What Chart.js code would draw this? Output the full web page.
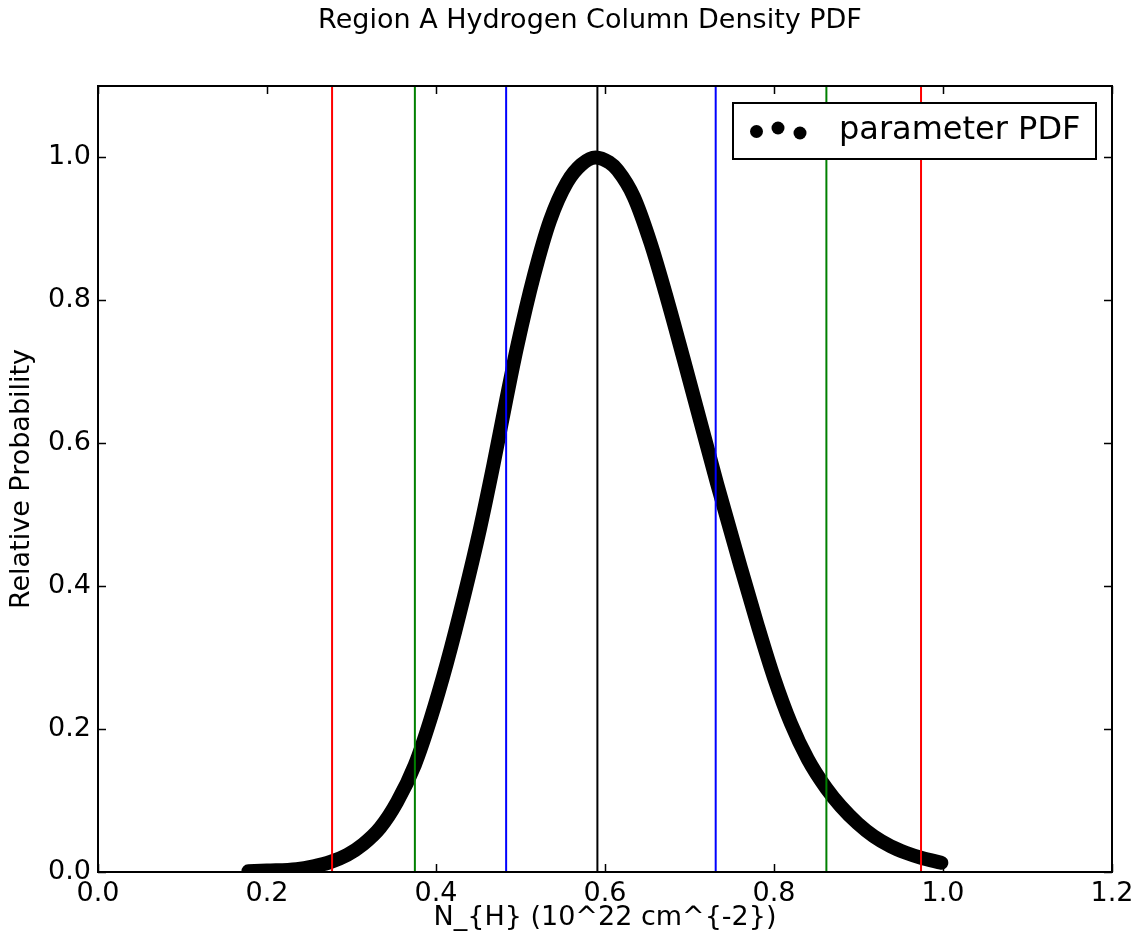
<!DOCTYPE html>
<html>
<head>
<meta charset="utf-8">
<title>Region A Hydrogen Column Density PDF</title>
<script src="https://cdn.jsdelivr.net/npm/chart.js@4.4.1/dist/chart.umd.min.js"></script>
<style>
    html, body { margin: 0; padding: 0; background: #fff; }
    #wrap { width: 1145px; height: 943px; }
</style>
</head>
<body>
<div id="wrap"><canvas id="pdfChart"></canvas></div>
<script>
// N_H samples (10^22 cm^-2) and relative probability
const nhValues = [0.178, 0.200, 0.235, 0.255, 0.275, 0.295, 0.314, 0.334, 0.354, 0.375,
    0.393, 0.413, 0.433, 0.452, 0.468, 0.483, 0.496, 0.516, 0.535, 0.555,
    0.572, 0.589, 0.605, 0.615, 0.634, 0.654, 0.674, 0.693, 0.713, 0.733,
    0.761, 0.780, 0.800, 0.820, 0.840, 0.862, 0.879, 0.899, 0.918, 0.938,
    0.956, 0.974, 0.998];
const probValues = [0.001, 0.002, 0.004, 0.008, 0.014, 0.024, 0.039, 0.062, 0.098, 0.150,
    0.212, 0.293, 0.385, 0.480, 0.570, 0.660, 0.735, 0.835, 0.912, 0.965,
    0.990, 1.000, 0.993, 0.982, 0.945, 0.880, 0.800, 0.718, 0.630, 0.542,
    0.425, 0.348, 0.272, 0.208, 0.158, 0.117, 0.092, 0.068, 0.050, 0.036,
    0.027, 0.020, 0.013];

// vertical marker lines: 3-sigma low, 2-sigma low, 1-sigma low, peak, 1/2/3-sigma high
const intervalLines = [0.277, 0.375, 0.483, 0.591, 0.731, 0.862, 0.974];
const intervalColours = ['#ff0000', '#008000', '#0000ff', '#000000', '#0000ff', '#008000', '#ff0000'];

const xTicks = [0.0, 0.2, 0.4, 0.6, 0.8, 1.0, 1.2];
const yTicks = [0.0, 0.2, 0.4, 0.6, 0.8, 1.0];

const FONT = "'DejaVu Sans', 'Liberation Sans', sans-serif";
const Y_MAX = 1.1;

const curveData = nhValues.map((x, i) => ({ x: x, y: probValues[i] }));

const datasets = intervalLines.map((v, i) => ({
    label: 'line' + i,
    data: [{ x: v, y: 0 }, { x: v, y: Y_MAX }],
    borderColor: intervalColours[i],
    borderWidth: 2,
    pointRadius: 0,
    order: 0
}));

datasets.push({
    label: 'parameter PDF',
    data: curveData,
    borderColor: '#000',
    backgroundColor: '#000',
    borderWidth: 14,
    borderCapStyle: 'round',
    borderJoinStyle: 'round',
    cubicInterpolationMode: 'monotone',
    pointRadius: 0,
    order: 1
});

// inside tick marks on all four sides plus the axes frame
const frameTicks = {
    id: 'frameTicks',
    afterDatasetsDraw(chart) {
        const { ctx, chartArea: a, scales } = chart;
        ctx.save();
        ctx.strokeStyle = '#000';
        ctx.lineWidth = 1.5;
        ctx.beginPath();
        scales.x.ticks.forEach(t => {
            const px = Math.round(scales.x.getPixelForValue(t.value)) + 0.5;
            ctx.moveTo(px, a.bottom); ctx.lineTo(px, a.bottom - 8);
            ctx.moveTo(px, a.top); ctx.lineTo(px, a.top + 8);
        });
        scales.y.ticks.forEach(t => {
            const py = Math.round(scales.y.getPixelForValue(t.value)) + 0.5;
            ctx.moveTo(a.left, py); ctx.lineTo(a.left + 8, py);
            ctx.moveTo(a.right, py); ctx.lineTo(a.right - 8, py);
        });
        ctx.stroke();
        ctx.lineWidth = 2;
        ctx.strokeRect(a.left, a.top, a.right - a.left, a.bottom - a.top);
        ctx.restore();
    }
};

// scatter-style legend box in the upper right corner
const dotLegend = {
    id: 'dotLegend',
    afterDraw(chart) {
        const { ctx, chartArea: a } = chart;
        const label = chart.data.datasets[chart.data.datasets.length - 1].label;
        const w = 363, h = 56;
        const left = a.right - 16 - w, top = a.top + 17;
        ctx.save();
        ctx.fillStyle = '#fff';
        ctx.fillRect(left, top, w, h);
        ctx.strokeStyle = '#000';
        ctx.lineWidth = 2;
        ctx.strokeRect(left, top, w, h);
        ctx.fillStyle = '#000';
        [[23.5, 28.5], [45, 25], [67, 30]].forEach(([dx, dy]) => {
            ctx.beginPath();
            ctx.arc(left + dx, top + dy, 6.5, 0, Math.PI * 2);
            ctx.fill();
        });
        ctx.font = '32px ' + FONT;
        ctx.textBaseline = 'middle';
        ctx.textAlign = 'left';
        ctx.fillText(label, left + 106, top + h / 2);
        ctx.restore();
    }
};

// shift the title so it sits where the original figure put it
const titleShift = {
    id: 'titleShift',
    afterLayout(chart) {
        if (chart.titleBlock) chart.titleBlock.left = 2 * 590 - chart.titleBlock.right;
    }
};

new Chart(document.getElementById('pdfChart'), {
    type: 'line',
    data: { datasets: datasets },
    options: {
        responsive: true,
        maintainAspectRatio: false,
        animation: false,
        layout: { padding: { top: 0, right: 33, bottom: 0, left: 0 } },
        plugins: {
            legend: { display: false },
            tooltip: { enabled: false },
            title: {
                display: true,
                text: 'Region A Hydrogen Column Density PDF',
                color: '#000',
                font: { family: FONT, size: 27, weight: 'normal' },
                padding: { top: 5, bottom: 48.6 }
            }
        },
        scales: {
            x: {
                type: 'linear',
                min: 0,
                max: 1.2,
                afterFit(scale) { scale.height = 71; },
                afterBuildTicks(scale) { scale.ticks = xTicks.map(v => ({ value: v })); },
                grid: { display: false, drawTicks: false },
                border: { display: false },
                ticks: {
                    color: '#000',
                    font: { family: FONT, size: 27 },
                    padding: 6,
                    maxRotation: 0,
                    callback: v => Number(v).toFixed(1)
                },
                title: {
                    display: true,
                    text: 'N_{H} (10^22 cm^{-2})',
                    color: '#000',
                    font: { family: FONT, size: 27 },
                    padding: { top: 0, bottom: 9 }
                }
            },
            y: {
                type: 'linear',
                min: 0,
                max: Y_MAX,
                afterFit(scale) { scale.width = 98; },
                afterBuildTicks(scale) { scale.ticks = yTicks.map(v => ({ value: v })); },
                grid: { display: false, drawTicks: false },
                border: { display: false },
                ticks: {
                    color: '#000',
                    font: { family: FONT, size: 27 },
                    padding: 7,
                    callback: v => Number(v).toFixed(1)
                },
                title: {
                    display: true,
                    text: 'Relative Probability',
                    color: '#000',
                    font: { family: FONT, size: 27 },
                    padding: { top: 6, bottom: 0 }
                }
            }
        }
    },
    plugins: [frameTicks, dotLegend, titleShift]
});
</script>
</body>
</html>
